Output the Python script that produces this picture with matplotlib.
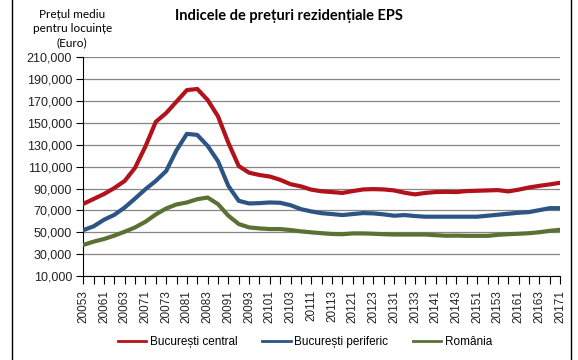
import matplotlib
matplotlib.use("Agg")
import matplotlib.pyplot as plt
from matplotlib.lines import Line2D

quarters = ["20053", "20054",
            "20061", "20062", "20063", "20064",
            "20071", "20072", "20073", "20074",
            "20081", "20082", "20083", "20084",
            "20091", "20092", "20093", "20094",
            "20101", "20102", "20103", "20104",
            "20111", "20112", "20113", "20114",
            "20121", "20122", "20123", "20124",
            "20131", "20132", "20133", "20134",
            "20141", "20142", "20143", "20144",
            "20151", "20152", "20153", "20154",
            "20161", "20162", "20163", "20164",
            "20171"]

bucuresti_central = [76000, 80500, 85000, 90500, 97000, 109000, 128500, 151000, 159000, 169500,
                     180000, 181000, 171000, 156000, 131800, 110600, 104500, 102400, 101000, 98000,
                     94000, 92000, 89000, 87500, 86800, 86000, 87700, 89200, 89500, 89200,
                     88300, 86200, 84700, 86000, 86800, 87000, 86800, 87700, 88000, 88300,
                     88600, 87400, 89000, 91000, 92500, 93800, 95300]

bucuresti_periferic = [52000, 55500, 61500, 66000, 72700, 80900, 89400, 97000, 106000, 125000,
                       140000, 139000, 129000, 115000, 92400, 78800, 76400, 76700, 77300, 77000,
                       74800, 71200, 69100, 67500, 66700, 65800, 66700, 67600, 67300, 66400,
                       65200, 65800, 64900, 64300, 64300, 64300, 64300, 64300, 64300, 65200,
                       66100, 67000, 67900, 68500, 70300, 72100, 72100]

romania = [38500, 41500, 43900, 47000, 50600, 54500, 59700, 66400, 71800, 75500,
           77300, 80300, 81800, 75800, 65200, 57600, 54500, 53600, 53000, 53000,
           52100, 50900, 50000, 49200, 48500, 48300, 49000, 49000, 48700, 48300,
           48000, 48000, 48000, 48000, 47400, 46900, 47000, 46800, 46800, 46800,
           47700, 48300, 48700, 49200, 50100, 51400, 52300]

series_names = ["București central", "București periferic", "România"]
series_colors = ["#B2121B", "#2C5484", "#5B7134"]

y_ticks = [10000, 30000, 50000, 70000, 90000, 110000, 130000, 150000, 170000, 190000, 210000]

fig = plt.figure(figsize=(5.78, 3.60), dpi=100)
ax = fig.add_axes([0.144, 0.233, 0.825, 0.608])

x = list(range(len(quarters)))
for vals, name, col in zip([bucuresti_central, bucuresti_periferic, romania], series_names, series_colors):
    ax.plot(x, vals, color=col, lw=3.0, solid_joinstyle="round", solid_capstyle="round", label=name, zorder=3)

ax.set_xlim(0, len(quarters) - 1)
ax.set_ylim(10000, 210000)
ax.set_yticks(y_ticks)
ax.set_yticklabels([f"{v:,}" for v in y_ticks], fontsize=9, family="Liberation Sans", color="#222222")
ax.set_xticks(x)
ax.set_xticklabels([q if i % 2 == 0 else "" for i, q in enumerate(quarters)],
                   rotation=90, fontsize=8.5, family="Liberation Sans", color="#222222")
ax.tick_params(axis="x", length=6, width=0.8, direction="out", pad=4)
ax.tick_params(axis="y", length=5, width=0.8, direction="out", pad=3)
ax.grid(axis="y", color="#868686", lw=0.9, zorder=0)
ax.set_axisbelow(True)
for s in ["top", "right"]:
    ax.spines[s].set_visible(False)
for s in ["left", "bottom"]:
    ax.spines[s].set_color("black")
    ax.spines[s].set_linewidth(0.8)

fig.text(0.50, 0.955, "Indicele de prețuri rezidențiale EPS", ha="center", va="center",
         fontsize=10.5, fontweight="bold", family="Lato")
fig.text(0.125, 0.92, "Prețul mediu\npentru locuințe\n(Euro)", ha="center", va="center",
         fontsize=8.5, family="Lato", linespacing=1.35)

handles = [Line2D([0], [0], color=c, lw=2) for c in series_colors]
fig.legend(handles, series_names, loc="center", bbox_to_anchor=(0.528, 0.05), ncol=3,
           frameon=False, handlelength=2.4, handletextpad=0.3, columnspacing=2.1,
           prop={"family": "Liberation Sans", "size": 8.5})

# outer chart border (left and right edges visible)
fig.add_artist(Line2D([0.021, 0.021], [0, 1], color="black", lw=1))
fig.add_artist(Line2D([0.988, 0.988], [0, 1], color="black", lw=1))

fig.savefig("out.png", dpi=100)
